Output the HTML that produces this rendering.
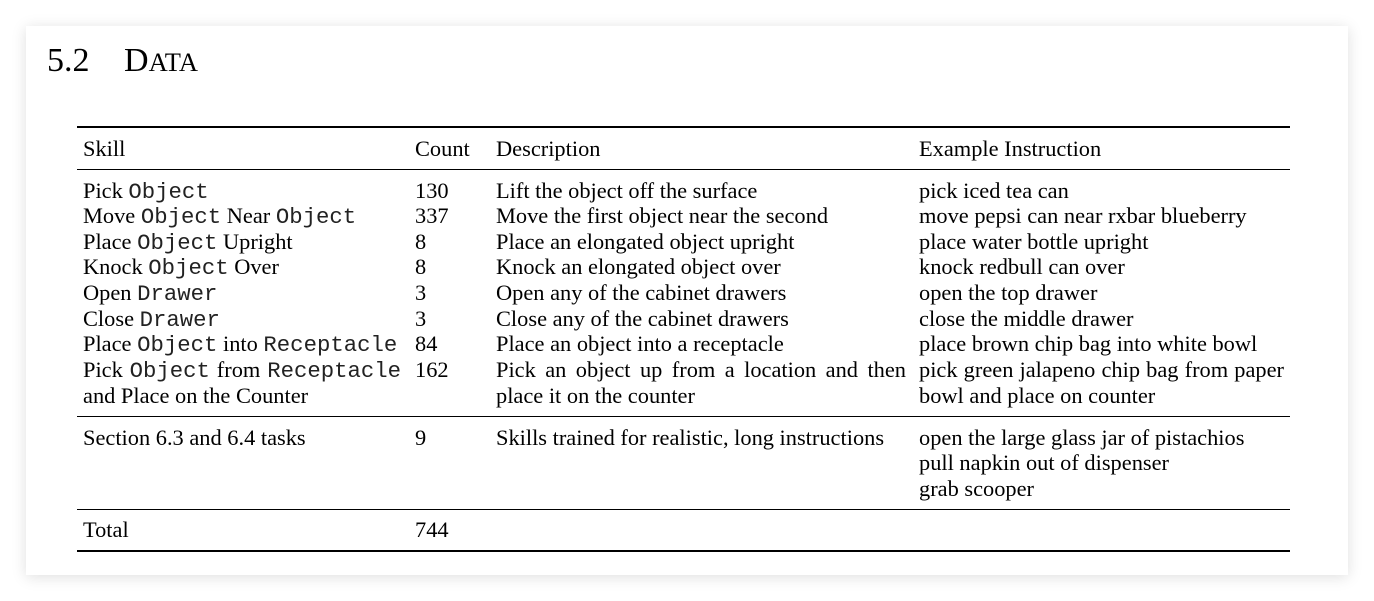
<!DOCTYPE html>
<html><head><meta charset="utf-8"><style>
html,body{margin:0;padding:0;background:#fff;}
body{width:1374px;height:601px;position:relative;overflow:hidden;font-family:"Liberation Serif",serif;color:#000;}
.card{position:absolute;left:26px;top:26px;width:1322px;height:549px;background:#fff;box-shadow:0 2px 14px rgba(0,0,0,0.13);}
.t{position:absolute;font-size:22.4px;line-height:24px;white-space:nowrap;}
.m{font-family:"Liberation Mono",monospace;font-size:22.3px;color:#222;}
.j{text-align:justify;text-align-last:justify;white-space:normal;}
.l{position:absolute;left:77px;width:1213px;background:#000;}
</style></head><body>
<div class="card"></div>
<div class="t" style="left:47px;top:42px;font-size:34px;line-height:38px;">5.2</div>
<div class="t" style="left:124px;top:42px;font-size:34px;line-height:38px;">D<span style="font-size:26.5px">ATA</span></div>

<div class="l" style="top:126px;height:2px"></div>
<div class="l" style="top:169px;height:1px"></div>
<div class="l" style="top:416px;height:1px"></div>
<div class="l" style="top:509px;height:1px"></div>
<div class="l" style="top:550px;height:2px"></div>

<div class="t" style="left:83px;top:137px">Skill</div>
<div class="t" style="left:415px;top:137px">Count</div>
<div class="t" style="left:496px;top:137px">Description</div>
<div class="t" style="left:919px;top:137px">Example Instruction</div>

<div class="t" style="left:83px;top:179px">Pick <span class="m">Object</span></div>
<div class="t" style="left:83px;top:204px">Move <span class="m">Object</span> Near <span class="m">Object</span></div>
<div class="t" style="left:83px;top:230px">Place <span class="m">Object</span> Upright</div>
<div class="t" style="left:83px;top:255px">Knock <span class="m">Object</span> Over</div>
<div class="t" style="left:83px;top:281px">Open <span class="m">Drawer</span></div>
<div class="t" style="left:83px;top:307px">Close <span class="m">Drawer</span></div>
<div class="t" style="left:83px;top:332px">Place <span class="m">Object</span> into <span class="m">Receptacle</span></div>
<div class="t j" style="left:83px;top:358px;width:318px">Pick <span class="m">Object</span> from <span class="m">Receptacle</span></div>
<div class="t" style="left:83px;top:384px">and Place on the Counter</div>

<div class="t" style="left:415px;top:179px">130</div>
<div class="t" style="left:415px;top:204px">337</div>
<div class="t" style="left:415px;top:230px">8</div>
<div class="t" style="left:415px;top:255px">8</div>
<div class="t" style="left:415px;top:281px">3</div>
<div class="t" style="left:415px;top:307px">3</div>
<div class="t" style="left:415px;top:332px">84</div>
<div class="t" style="left:415px;top:358px">162</div>

<div class="t" style="left:496px;top:179px">Lift the object off the surface</div>
<div class="t" style="left:496px;top:204px">Move the first object near the second</div>
<div class="t" style="left:496px;top:230px">Place an elongated object upright</div>
<div class="t" style="left:496px;top:255px">Knock an elongated object over</div>
<div class="t" style="left:496px;top:281px">Open any of the cabinet drawers</div>
<div class="t" style="left:496px;top:307px">Close any of the cabinet drawers</div>
<div class="t" style="left:496px;top:332px">Place an object into a receptacle</div>
<div class="t j" style="left:496px;top:358px;width:410px">Pick an object up from a location and then</div>
<div class="t" style="left:496px;top:384px">place it on the counter</div>

<div class="t" style="left:919px;top:179px">pick iced tea can</div>
<div class="t" style="left:919px;top:204px">move pepsi can near rxbar blueberry</div>
<div class="t" style="left:919px;top:230px">place water bottle upright</div>
<div class="t" style="left:919px;top:255px">knock redbull can over</div>
<div class="t" style="left:919px;top:281px">open the top drawer</div>
<div class="t" style="left:919px;top:307px">close the middle drawer</div>
<div class="t" style="left:919px;top:332px">place brown chip bag into white bowl</div>
<div class="t j" style="left:919px;top:358px;width:365px">pick green jalapeno chip bag from paper</div>
<div class="t" style="left:919px;top:384px">bowl and place on counter</div>

<div class="t" style="left:83px;top:426px">Section 6.3 and 6.4 tasks</div>
<div class="t" style="left:415px;top:426px">9</div>
<div class="t" style="left:496px;top:426px">Skills trained for realistic, long instructions</div>
<div class="t" style="left:919px;top:426px">open the large glass jar of pistachios</div>
<div class="t" style="left:919px;top:451px">pull napkin out of dispenser</div>
<div class="t" style="left:919px;top:477px">grab scooper</div>

<div class="t" style="left:83px;top:518px">Total</div>
<div class="t" style="left:415px;top:518px">744</div>
</body></html>
